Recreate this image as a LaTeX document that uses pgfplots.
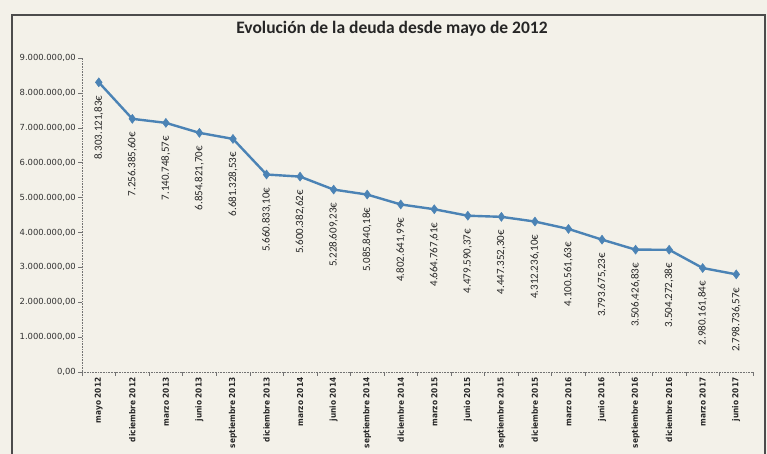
\documentclass[border=0pt]{standalone}
\usepackage{pgfplots}
\pgfplotsset{compat=1.18}
\usepackage{pgfplotstable}
\usepackage{fontspec}
\setmainfont{Carlito}
\newfontfamily\tickfont{DejaVu Sans}
\newfontfamily\xfont{DejaVu Sans Condensed}
\definecolor{bg}{RGB}{243,241,233}
\definecolor{linec}{RGB}{75,131,181}
\pgfplotstableread{
x y label
0 8303121.83 8.303.121,83€
1 7256385.60 7.256.385,60€
2 7140748.57 7.140.748,57€
3 6854821.70 6.854.821,70€
4 6681328.53 6.681.328,53€
5 5660833.10 5.660.833,10€
6 5600382.62 5.600.382,62€
7 5228609.23 5.228.609,23€
8 5085840.18 5.085.840,18€
9 4802641.99 4.802.641,99€
10 4664767.61 4.664.767,61€
11 4479590.37 4.479.590,37€
12 4447352.30 4.447.352,30€
13 4312236.10 4.312.236,10€
14 4100561.63 4.100.561,63€
15 3793675.23 3.793.675,23€
16 3506426.83 3.506.426,83€
17 3504272.38 3.504.272,38€
18 2980161.84 2.980.161,84€
19 2798736.57 2.798.736,57€
}\deuda
\begin{document}
\begin{tikzpicture}[x=1pt,y=1pt]
\useasboundingbox (0,0) rectangle (767,454);
\clip (0,0) rectangle (767,454);
\fill[bg] (0,0) rectangle (767,454);
\draw[black!70, line width=1.3pt] (12,-10) -- (12,439) -- (765,439) -- (765,-10);
\begin{axis}[
  at={(82pt,82pt)}, anchor=south west,
  width=671pt, height=314pt, scale only axis,
  xmin=-0.5, xmax=19.5, ymin=0, ymax=9000000,
  axis x line*=bottom, axis y line*=left,
  axis line style={black!55, densely dotted, line width=0.6pt},
  xtick={0,...,19},
  xticklabels={mayo 2012,diciembre 2012,marzo 2013,junio 2013,septiembre 2013,diciembre 2013,marzo 2014,junio 2014,septiembre 2014,diciembre 2014,marzo 2015,junio 2015,septiembre 2015,diciembre 2015,marzo 2016,junio 2016,septiembre 2016,diciembre 2016,marzo 2017,junio 2017},
  xticklabel style={rotate=90, anchor=east, font=\xfont\bfseries\fontsize{8.2}{10}\selectfont, text=black!85, inner sep=1.5pt},
  major x tick style={draw=none},
  minor xtick={-0.5,0.5,...,19.5},
  minor tick length=4pt,
  minor x tick style={black!55, line width=0.5pt},
  ytick={0,1000000,...,9000000},
  yticklabels={{0,00},{1.000.000,00},{2.000.000,00},{3.000.000,00},{4.000.000,00},{5.000.000,00},{6.000.000,00},{7.000.000,00},{8.000.000,00},{9.000.000,00}},
  yticklabel style={font=\tickfont\fontsize{8.4}{10}\selectfont, text=black!80, inner sep=2pt},
  major tick length=4pt,
  tick align=outside,
  major y tick style={black!55, line width=0.5pt},
  scaled y ticks=false,
  clip=false,
]
\addplot[color=linec, line width=2.4pt, mark=diamond*, mark size=4.5pt,
  mark options={solid, fill=linec, draw=linec, line width=0.5pt},
  point meta=explicit symbolic,
  nodes near coords,
  nodes near coords style={rotate=90, anchor=east, font=\fontsize{11}{12}\selectfont, text=black!85, inner xsep=13pt, inner ysep=0pt},
] table[x=x, y=y, meta=label] {\deuda};
\end{axis}
\node[font=\bfseries\fontsize{17.5}{20}\selectfont, text=black!85] at (392,425) {Evolución de la deuda desde mayo de 2012};
\end{tikzpicture}
\end{document}
